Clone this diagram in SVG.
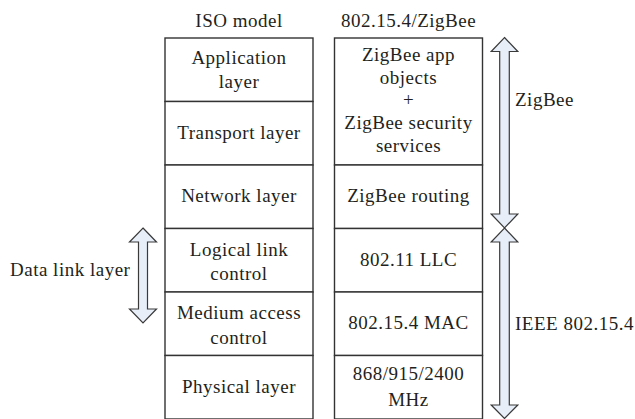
<svg xmlns="http://www.w3.org/2000/svg" width="635" height="419" viewBox="0 0 635 419" font-family="Liberation Serif, DejaVu Serif, serif">
<style>
text{font-size:19px;fill:#231f20;letter-spacing:0.5px}
.c{text-anchor:middle}
.cell{fill:#fff;stroke:#333;stroke-width:1.4}
.arr{fill:#e7eef8;stroke:#3a3a3a;stroke-width:1.2;stroke-linejoin:miter}
</style>
<rect width="635" height="419" fill="#fff"/>
<g id="header-iso"><text class="c" x="239" y="27" font-family="Liberation Serif, serif">ISO model</text></g>
<g id="header-zigbee"><text class="c" x="408.5" y="27">802.15.4/ZigBee</text></g>

<g id="iso-application"><rect class="cell" x="165" y="38" width="148" height="63.5"/><text class="c" x="239" y="64">Application</text><text class="c" x="239" y="88">layer</text></g>
<g id="iso-transport"><rect class="cell" x="165" y="101.5" width="148" height="63.5"/><text class="c" x="239" y="139">Transport layer</text></g>
<g id="iso-network"><rect class="cell" x="165" y="165" width="148" height="63.5"/><text class="c" x="239" y="202">Network layer</text></g>
<g id="iso-llc"><rect class="cell" x="165" y="228.5" width="148" height="63.5"/><text class="c" x="239" y="256">Logical link</text><text class="c" x="239" y="280">control</text></g>
<g id="iso-mac"><rect class="cell" x="165" y="292" width="148" height="63.5"/><text class="c" x="239" y="319">Medium access</text><text class="c" x="239" y="344">control</text></g>
<g id="iso-physical"><rect class="cell" x="165" y="355.5" width="148" height="63.5"/><text class="c" x="239" y="393">Physical layer</text></g>

<g id="zb-app"><rect class="cell" x="334.5" y="38" width="148" height="127"/><text class="c" x="408.5" y="61">ZigBee app</text><text class="c" x="408.5" y="84">objects</text><text class="c" x="408.5" y="106">+</text><text class="c" x="408.5" y="129">ZigBee security</text><text class="c" x="408.5" y="152">services</text></g>
<g id="zb-routing"><rect class="cell" x="334.5" y="165" width="148" height="63.5"/><text class="c" x="408.5" y="202">ZigBee routing</text></g>
<g id="zb-llc"><rect class="cell" x="334.5" y="228.5" width="148" height="63.5"/><text class="c" x="408.5" y="266">802.11 LLC</text></g>
<g id="zb-mac"><rect class="cell" x="334.5" y="292" width="148" height="63.5"/><text class="c" x="408.5" y="329">802.15.4 MAC</text></g>
<g id="zb-phy"><rect class="cell" x="334.5" y="355.5" width="148" height="63.5"/><text class="c" x="408.5" y="380">868/915/2400</text><text class="c" x="408.5" y="406">MHz</text></g>

<g id="connectors">
<polygon class="arr" points="143,228 156.5,242 147.5,242 147.5,309 156.5,309 143,323 129.5,309 138.5,309 138.5,242 129.5,242"/>
<polygon class="arr" points="504.5,37.5 517.8,51.5 509.3,51.5 509.3,214 517.8,214 504.5,228 491.2,214 499.7,214 499.7,51.5 491.2,51.5"/>
<polygon class="arr" points="504.5,228 517.8,242 509.3,242 509.3,405 517.8,405 504.5,418.5 491.2,405 499.7,405 499.7,242 491.2,242"/>
</g>
<g id="label-datalink"><text x="10" y="276">Data link layer</text></g>
<g id="label-zigbee"><text x="515" y="106">ZigBee</text></g>
<g id="label-ieee"><text x="515" y="330">IEEE 802.15.4</text></g>
</svg>
